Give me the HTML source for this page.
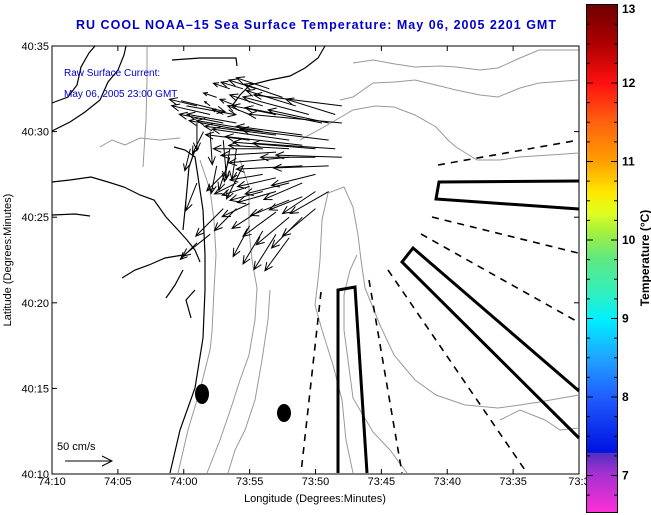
<!DOCTYPE html>
<html><head><meta charset="utf-8"><style>
body{margin:0;background:#fff;}
svg{display:block;font-family:"Liberation Sans",sans-serif;}
</style></head><body>
<svg id="chart" width="651" height="515" viewBox="0 0 651 515">
<defs>
<linearGradient id="cb" x1="0" y1="0" x2="0" y2="1">
<stop offset="0" stop-color="#6e0000"/>
<stop offset="0.08" stop-color="#b00000"/>
<stop offset="0.155" stop-color="#ff1010"/>
<stop offset="0.23" stop-color="#ff6010"/>
<stop offset="0.31" stop-color="#ffa000"/>
<stop offset="0.37" stop-color="#ffe800"/>
<stop offset="0.41" stop-color="#e0ff20"/>
<stop offset="0.45" stop-color="#a0f040"/>
<stop offset="0.50" stop-color="#60e880"/>
<stop offset="0.57" stop-color="#30f0c0"/>
<stop offset="0.62" stop-color="#00f0ff"/>
<stop offset="0.70" stop-color="#20a0ff"/>
<stop offset="0.77" stop-color="#2060ff"/>
<stop offset="0.882" stop-color="#0010e0"/>
<stop offset="0.883" stop-color="#5030c0"/>
<stop offset="0.92" stop-color="#a030d0"/>
<stop offset="1" stop-color="#ff30d8"/>
</linearGradient>
</defs>
<text x="316" y="29" text-anchor="middle" font-size="12.5" font-weight="bold" fill="#0000cc" textLength="480">RU COOL  NOAA–15  Sea Surface Temperature:  May 06, 2005 2201 GMT</text>
<rect x="52" y="46" width="527" height="428" fill="#fff" stroke="#000" stroke-width="1"/>
<g id="contours" fill="none" stroke="#999" stroke-width="1">
<path d="M353,63 L373,60 L395,64 L415,67 L440,66 L456,67 L480,70 L498,68 L520,58 L539,50 L579,50"/>
<path d="M340,100 L353,97 L373,83 L395,82 L415,80 L440,86 L456,90 L480,95 L498,97 L520,88 L539,83 L579,80"/>
<path d="M300,140 L324,127 L353,110 L375,106 L394,107 L415,115 L436,127 L448,140 L456,147 L477,160 L500,160 L519,157 L550,155 L579,153"/>
<path d="M178,473 L188,430 L200,390 L210,350 L212,332 L214,290 L216,255 L214,220 L210,190 L200,160"/>
<path d="M207,473 L220,440 L232,405 L240,380 L249,355 L255,320 L257,288 L252,260 L249,230 L249,187 L240,160"/>
<path d="M353,473 L346,440 L342,400 L333,365 L322,330 L315,305 L318,280 L320,260 L322,220 L328,193 L344,187 L353,207 L358,235 L361,260 L365,288 L380,325 L394,355 L415,380 L436,395 L465,405 L498,408 L520,405 L539,402 L579,395"/>
<path d="M407,473 L390,450 L373,432 L360,410 L353,398 L348,360 L344,330 L344,295 L350,270 L357,255"/>
<path d="M143,167 L146,120 L147,80 L147,47"/>
<path d="M100,147 L112,140 L125,145 L140,138 L160,140 L180,138"/>
<path d="M228,473 L235,450 L245,430 L255,400 L262,360 L268,320 L270,290"/>
<path d="M500,420 L520,410 L545,420 L560,430 L579,428"/>
</g>
<g id="coast" fill="none" stroke="#000" stroke-width="1.2">
<path d="M52,103 L68,97 L77,85 L81,67 L89,53 L95,46"/>
<path d="M52,131 L70,122 L85,112 L100,100 L108,82 L118,70 L124,55 L126,46"/>
<path d="M172,60 L200,58 L236,58 L237,66"/>
<path d="M232,106 L240,95 L250,85 L270,80 L290,76 L305,68 L318,58 L325,46"/>
<path d="M52,182 L70,180 L91,177 L108,182 L124,187 L140,195 L154,200 L166,217 L178,230 L187,240 L195,250 L200,262"/>
<path d="M170,473 L180,430 L195,388 L203,338 L205,290 L205,255 L203,210 L195,157 L185,150 L174,147"/>
<path d="M183,230 L186,200 L189,167 L195,150"/>
<path d="M122,278 L135,270 L149,265 L165,258 L183,255 M166,298 L175,285 L183,270 M191,318 L186,300 L195,290"/>
<path d="M52,215 L75,214 L90,216"/>
</g>
<g id="lines" fill="none" stroke="#000">
<path d="M438,165 L579,140 M432,217 L578,253 M421,234 L578,322 M388,270 L527,473 M369,280 L402,473 M321,292 L301,473" stroke-width="1.6" stroke-dasharray="7,6"/>
<path d="M579,181 L439,182 L436,199 L579,209" stroke-width="3"/>
<path d="M579,391 L413,248 L402,262 L579,438" stroke-width="3"/>
<path d="M338,473 L338,290 L355,287 L367,473" stroke-width="3"/>
</g>
<ellipse cx="202" cy="394" rx="7" ry="10" fill="#000"/>
<ellipse cx="284" cy="413" rx="7" ry="9" fill="#000"/>
<g id="arrows" stroke="#000" stroke-width="1" fill="none"></g>
<text x="57" y="450" font-size="11">50 cm/s</text>
<path d="M65,461 L112,461 M102,456 L112,461 L102,466" stroke="#000" fill="none"/>
<text x="64" y="76" font-size="10" fill="#0000cc">Raw Surface Current:</text>
<text x="64" y="97" font-size="10" fill="#0000cc">May 06, 2005 23:00 GMT</text>
<g id="xaxis"></g>
<g id="yaxis"></g>
<text x="315" y="502" text-anchor="middle" font-size="11">Longitude (Degrees:Minutes)</text>
<text transform="translate(11,260) rotate(-90)" text-anchor="middle" font-size="11">Latitude (Degrees:Minutes)</text>
<rect x="586.5" y="4.5" width="31" height="508" fill="url(#cb)" stroke="#000"/>
<g id="cbticks"></g>
<text transform="translate(649,258) rotate(-90)" text-anchor="middle" font-size="12" font-weight="bold">Temperature (°C)</text>
</svg>
<script>
const xTickLabels = ["74:10","74:05","74:00","73:55","73:50","73:45","73:40","73:35","73:3"];
const xTickMinutes = [0,5,10,15,20,25,30,35,40];
const yTickLabels = ["40:10","40:15","40:20","40:25","40:30","40:35"];
const yTickMinutes = [0,5,10,15,20,25];
const cbValues = [7,8,9,10,11,12,13];
// arrow bases (minutes east of 74:10, minutes north of 40:10) and velocity (cm/s)
const arrowX = [11,12,13,14,15,16,17,18,19,20,21,20.5,19.5,18.5,17.5,16.5,15.5,14.5,13.5,12.5,18,19,20,21,21.5,11,12,13,14,10.5,
 14,15,16,17,18,19,15,16,17,18,19,20,14,15,16,17,18,12,13,21,20,13,11,9.8,10.2,
 22,22,21.5,22,21,16,17,15,14,13,12,11.5,13.5,15,16,17,18,19,
 16,17,18,19,20,12.5,13.5,14.5,11];
const arrowY = [21.5,21,20.5,20.5,20,20,19.8,19.5,19.2,19,19.5,20.5,21,21.5,22,22.5,22.5,22.5,22.5,22,18.5,18,18.5,20.5,21,20.5,20,19.5,19,19,
 17,16.8,16.5,16.5,16,16.2,15.8,15.5,15.3,15,15,15.5,15.5,14.5,14.2,14,13.8,14,15.5,16.5,17.5,17.5,13.5,21.8,21.5,
 21.5,20.5,19,18.5,18,21.5,21,21,21.5,21,21.5,20,19,19.5,19,18.8,19,19.8,
 17.5,17.3,17,17,16.5,18,18.5,18,17];
const arrowU = [-25,-35,-40,-45,-55,-60,-65,-70,-70,-75,-80,-70,-60,-45,-35,-30,-25,-20,-15,-12,-55,-60,-50,-55,-45,0,2,3,-4,-5,
 -20,-25,-30,-35,-35,-30,-25,-28,-30,-30,-28,-30,-20,-15,-18,-20,-22,-25,-25,-35,-40,-15,-15,40,45,
 -80,-85,-75,-60,-50,-30,-40,-20,-15,-10,-5,-10,-5,-40,-45,-50,-55,-60,
 -30,-35,-40,-35,-30,-5,-10,-15,-10];
const arrowV = [6,8,8,8,10,10,8,10,8,6,10,14,16,14,12,10,8,6,5,4,-5,-3,0,12,14,-25,-30,-35,-28,-20,
 -10,-8,-8,-10,-14,-12,-12,-18,-22,-25,-28,-25,-20,-28,-30,-32,-30,-20,-25,-20,-10,-15,-15,-10,-8,
 10,8,5,2,-2,10,8,8,6,5,4,-20,-30,5,0,-3,3,8,
 -5,-8,-10,-15,-20,-25,-30,-30,-25];

const L=52,R=579,T=46,B=474;
const xS = m => L + m*(R-L)/40;
const yS = m => B - m*(B-T)/25;
const cS = v => 4.5 + (13-v)*78.5;
const PX = 1.1; // px per cm/s
const ns="http://www.w3.org/2000/svg";
function mk(tag, attrs, parent){const e=document.createElementNS(ns,tag);for(const k in attrs)e.setAttribute(k,attrs[k]);parent.appendChild(e);return e;}

const xa=document.getElementById('xaxis');
xTickMinutes.forEach((m,i)=>{
  const x=xS(m);
  const t=mk('line',{x1:x,x2:x,y1:B,y2:B-5,stroke:'#000'},xa);
  
  
  const t2=mk('line',{x1:x,x2:x,y1:T,y2:T+5,stroke:'#000'},xa);
  
  
  const lb=mk('text',{x:x,y:B+11,'text-anchor':'middle','font-size':11},xa);
  lb.textContent=xTickLabels[i];
  
  
});
const ya=document.getElementById('yaxis');
yTickMinutes.forEach((m,i)=>{
  const y=yS(m);
  const t=mk('line',{x1:L,x2:L+5,y1:y,y2:y,stroke:'#000'},ya);
  
  
  const t2=mk('line',{x1:R,x2:R-5,y1:y,y2:y,stroke:'#000'},ya);
  
  
  const lb=mk('text',{x:L-3,y:y+4,'text-anchor':'end','font-size':11},ya);
  lb.textContent=yTickLabels[i];
  
  
});
const cb=document.getElementById('cbticks');
cbValues.forEach(v=>{
  const y=cS(v);
  const lb=mk('text',{x:622,y:Math.max(y+4,13),'font-size':12,'font-weight':'bold'},cb);
  lb.textContent=String(v);
  
  
});
for(let v=6.75; v<13; v+=0.25){
  const y=cS(v);
  const len = Math.abs(v-Math.round(v))<0.01?6:3;
  const t=mk('line',{x1:617,x2:617-len,y1:y,y2:y,stroke:'#000'},cb);
  
  
  const t2=mk('line',{x1:587,x2:587+len,y1:y,y2:y,stroke:'#000'},cb);
  
  
}
const ag=document.getElementById('arrows');
arrowX.forEach((mx,i)=>{
  const x0=xS(mx), y0=yS(arrowY[i]);
  const dx=arrowU[i]*PX, dy=-arrowV[i]*PX;
  const x1=x0+dx, y1=y0+dy;
  const len=Math.hypot(dx,dy)||1, ux=dx/len, uy=dy/len, h=Math.min(8,len*0.3);
  const hx1=x1-h*ux+h*0.45*uy, hy1=y1-h*uy-h*0.45*ux;
  const hx2=x1-h*ux-h*0.45*uy, hy2=y1-h*uy+h*0.45*ux;
  const p=mk('path',{d:`M${x0},${y0} L${x1},${y1} M${hx1},${hy1} L${x1},${y1} L${hx2},${hy2}`},ag);
  
  
});
</script>
</body></html>
